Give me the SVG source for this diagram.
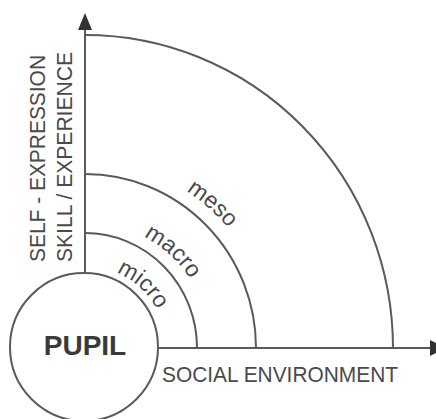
<svg xmlns="http://www.w3.org/2000/svg" width="436" height="419" viewBox="0 0 436 419">
<style>
.ln{fill:none;stroke:#5a5a5a;stroke-width:2}
.t{font-family:"Liberation Sans",Arial,sans-serif;font-size:22.5px;fill:#4a4a4a}
.c{font-family:"Liberation Sans",Arial,sans-serif;font-size:23px;fill:#4a4a4a}
.b{font-family:"Liberation Sans",Arial,sans-serif;font-size:28px;font-weight:bold;fill:#3a3a3a}
.ah{fill:#333}
</style>
<defs>
<path id="pMicro" d="M85,266.3 A81.7,81.7 0 0 1 166.7,348"/>
<path id="pMacro" d="M85,222 A126,126 0 0 1 211,348"/>
<path id="pMeso" d="M85,161.3 A186.7,186.7 0 0 1 271.7,348"/>
</defs>
<rect width="436" height="419" fill="#fff"/>
<g id="connectors">
<line class="ln" x1="85" y1="273" x2="85" y2="28"/>
<polygon class="ah" points="85,13 78,30 92,30"/>
<line class="ln" x1="158" y1="348" x2="432" y2="348"/>
<polygon class="ah" points="430,340 430,356 446,348"/>
</g>
<g id="arcs">
<path id="arc-micro" class="ln" d="M85,233 A112,115 0 0 1 197,348"/>
<path id="arc-macro" class="ln" d="M85,174 A171,174 0 0 1 256,348"/>
<path id="arc-meso" class="ln" d="M85,35 A308,313 0 0 1 393,348"/>
</g>
<g id="pupil">
<circle class="ln" cx="84" cy="347" r="74" fill="#fff"/>
<text class="b" x="85" y="355" text-anchor="middle">PUPIL</text>
</g>
<g id="labels">
<text class="c"><textPath href="#pMicro" startOffset="47%" text-anchor="middle">micro</textPath></text>
<text class="c"><textPath href="#pMacro" startOffset="47%" text-anchor="middle">macro</textPath></text>
<text class="c"><textPath href="#pMeso" startOffset="46%" text-anchor="middle">meso</textPath></text>
<text class="t" transform="translate(45,262) rotate(-90)" textLength="207" lengthAdjust="spacingAndGlyphs">SELF - EXPRESSION</text>
<text class="t" transform="translate(72,262) rotate(-90)" textLength="210" lengthAdjust="spacingAndGlyphs">SKILL / EXPERIENCE</text>
<text class="t" x="162" y="382" textLength="236" lengthAdjust="spacingAndGlyphs">SOCIAL ENVIRONMENT</text>
</g>
</svg>
